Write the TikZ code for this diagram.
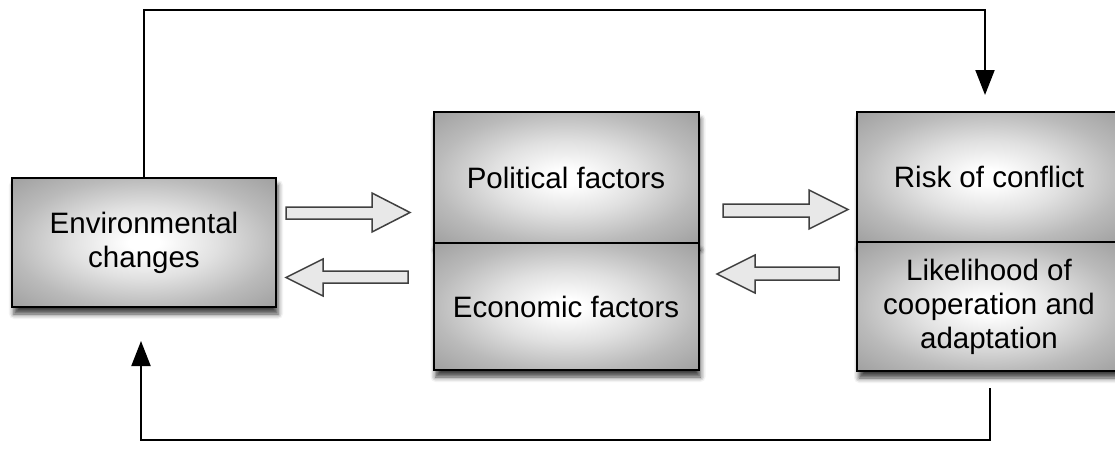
\documentclass[tikz,border=0pt]{standalone}
\usepackage{fontspec}
\setmainfont{Liberation Sans}
\usetikzlibrary{arrows.meta,shadows.blur}
\pgfdeclareradialshading{boxglow}{\pgfpoint{0bp}{0bp}}{%
  color(0bp)=(white); color(3bp)=(white); color(14bp)=(black!12);
  color(25bp)=(black!27); color(36bp)=(black!38); color(50bp)=(black!38)}
\begin{document}
\begin{tikzpicture}[x=1pt,y=-1pt,
  box/.style={draw=black, line width=2pt, inner sep=0pt, outer sep=0pt,
    shading=boxglow,
    blur shadow={shadow xshift=2pt, shadow yshift=-7pt, shadow blur radius=5pt, shadow opacity=75},
    align=center, font=\fontsize{29.5}{34}\selectfont},
  blockarrow/.style={draw=black!75, line width=1.5pt, fill=black!9, line join=miter},
  fb/.style={draw=black, line width=2pt, -{Triangle[length=25pt,width=19pt]}}]
\useasboundingbox (0,0) rectangle (1115,452);
% boxes
\node[box, minimum width=264pt, minimum height=129pt] (env) at (144,242.5) {Environmental\\changes};
\node[box, minimum width=265pt, minimum height=131pt] (pol) at (566,177.5) {Political factors};
\node[box, minimum width=265pt, minimum height=127pt] (eco) at (566,306.5) {Economic factors};
\node[box, minimum width=264pt, minimum height=130pt] (risk) at (989,177) {Risk of conflict};
\node[box, minimum width=264pt, minimum height=129pt] (coop) at (989,306.5) {Likelihood of\\cooperation and\\adaptation};
% block arrows
\draw[blockarrow] (286,207) -- (372,207) -- (372,193) -- (410,212.5) -- (372,232) -- (372,219) -- (286,219) -- cycle;
\draw[blockarrow] (408,271) -- (323,271) -- (323,259) -- (286,277.5) -- (323,296) -- (323,283) -- (408,283) -- cycle;
\draw[blockarrow] (723,204) -- (809,204) -- (809,190) -- (848,209.5) -- (809,229) -- (809,217) -- (723,217) -- cycle;
\draw[blockarrow] (839,267) -- (755,267) -- (755,255) -- (717,274) -- (755,293) -- (755,280) -- (839,280) -- cycle;
% feedback connectors
\coordinate (t1) at (985,95);
\coordinate (b0) at (990,388);
\coordinate (b1) at (141,341);
\draw[fb] (env.north) -- (144,10) -- (985,10) -- (t1);
\draw[fb] (b0) -- (990,440) -- (141,440) -- (b1);
\end{tikzpicture}
\end{document}
